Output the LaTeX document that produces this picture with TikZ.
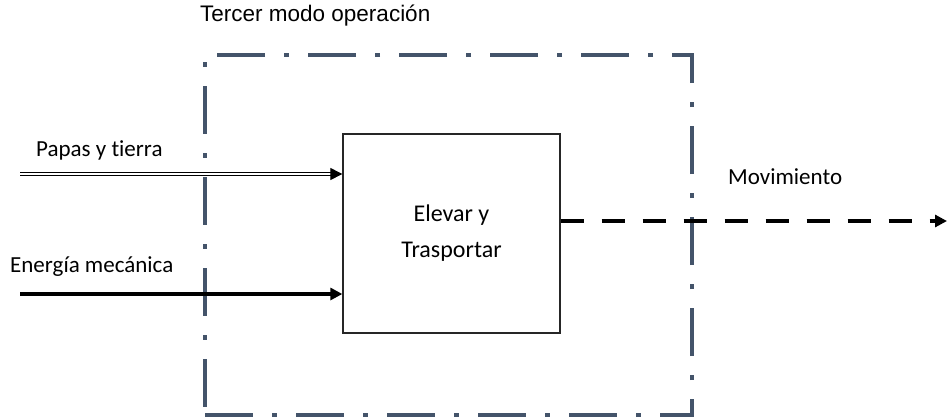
\documentclass[tikz,border=0pt]{standalone}
\usepackage{fontspec}
\setmainfont{Carlito}[Ligatures=CommonOff]
\newfontfamily\titlefont{Liberation Sans}
\usetikzlibrary{arrows.meta}
\definecolor{framecol}{HTML}{44546A}
\tikzset{
  x=1pt, y=-1pt,
  lbl/.style={anchor=base west, inner sep=0pt, font=\fontsize{23}{27}\selectfont},
  procbox/.style={draw=black!85, line width=1.3pt, minimum width=217pt, minimum height=199pt,
    inner sep=0pt, align=center, font=\fontsize{24}{36}\selectfont},
  modeframe/.style={draw=framecol, line width=4.5pt, minimum width=487pt, minimum height=360pt,
    inner sep=0pt, dash pattern=on 48pt off 19pt on 5pt off 19pt},
  tip/.style={-{Triangle[length=12pt,width=12pt]}},
}
\begin{document}
\begin{tikzpicture}
\useasboundingbox (0,0) rectangle (947,418);

% operating-mode boundary and the process block
\node[modeframe] (frame) at (448.5,235) {};
\node[procbox] (box) at (451.5,233.5) {Elevar y\\Trasportar};

% labels
\node[lbl, font=\titlefont\fontsize{22.5}{27}\selectfont] (title) at (200,21) {Tercer modo operación};
\node[lbl] (lpapas) at (36,156) {Papas y tierra};
\node[lbl] (lenergia) at (10,272) {Energía mecánica};
\node[lbl] (lmov) at (728,184) {Movimiento};

% connector end points
\coordinate (pin) at (20,174);
\coordinate (ein) at (20,294);
\coordinate (mout) at (947,221);
\coordinate (pend) at (pin -| box.west);
\coordinate (pstop) at ([xshift=-10pt]pend);

% material flow (double line)
\draw[double distance=2pt, line width=1.2pt] (pin) -- (pstop);
\draw[tip, line width=1pt] (pstop) -- (pend);

% energy flow
\draw[tip, line width=3.5pt] (ein) -- (ein -| box.west);

% signal / motion output
\draw[tip, line width=4pt, dash pattern=on 23pt off 18pt] (box.east |- mout) -- (mout);
\end{tikzpicture}
\end{document}
